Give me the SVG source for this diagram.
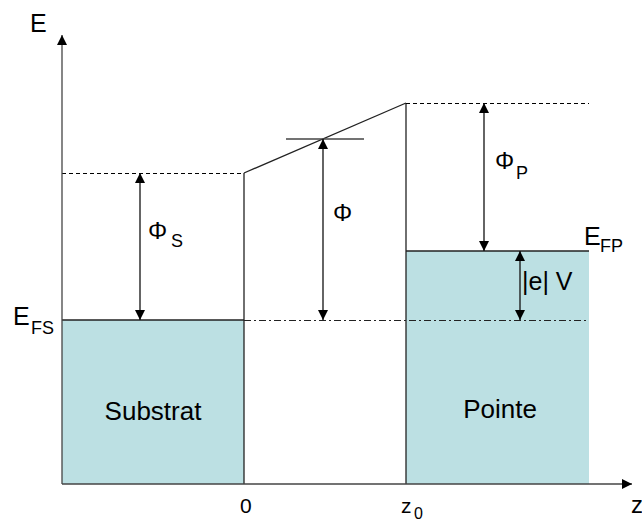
<svg xmlns="http://www.w3.org/2000/svg" width="642" height="523" viewBox="0 0 642 523">
<style>
.t{font-family:"Liberation Sans",Arial,sans-serif;fill:#000;}
.lbl{font-size:25px;}
.phi{font-size:24px;}
.sub{font-size:18px;}
.box{fill:#BCE0E3;stroke:none;}
.ln{stroke:#222;stroke-width:1.3;fill:none;}
.ax{stroke:#444;stroke-width:1.3;fill:none;}
.dash{stroke:#000;stroke-width:1.2;stroke-dasharray:4 3;fill:none;}
.dd{stroke:#222;stroke-width:1.1;stroke-dasharray:7 3 2 3;fill:none;}
.arr{stroke:#111;stroke-width:1.3;fill:none;marker-start:url(#ah);marker-end:url(#ah);}
</style>
<defs>
<marker id="ah" viewBox="0 0 10 10" refX="10" refY="5" markerWidth="10" markerHeight="10" markerUnits="userSpaceOnUse" orient="auto-start-reverse">
<path d="M0,0 L10,5 L0,10 Z" fill="#000"/>
</marker>
<marker id="axh" viewBox="0 0 10 10" refX="10" refY="5" markerWidth="10" markerHeight="10" markerUnits="userSpaceOnUse" orient="auto">
<path d="M0,0 L10,5 L0,10 Z" fill="#000"/>
</marker>
</defs>

<g id="substrat">
<rect class="box" x="62" y="320" width="182" height="164"/>
<line class="ln" x1="62" y1="320" x2="244" y2="320"/>
<text class="t" x="153" y="420" font-size="26" text-anchor="middle">Substrat</text>
</g>

<g id="pointe">
<rect class="box" x="406" y="251" width="183" height="233"/>
<line class="ln" x1="406" y1="251" x2="589" y2="251"/>
<text class="t" x="500" y="418" font-size="26" text-anchor="middle">Pointe</text>
</g>

<g id="barrier">
<line class="ln" x1="244" y1="173" x2="244" y2="484"/>
<line class="ln" x1="406" y1="103" x2="406" y2="484"/>
<line class="ln" x1="244" y1="173" x2="406" y2="103"/>
<line class="dash" x1="62" y1="173.5" x2="244" y2="173.5"/>
<line class="dash" x1="406" y1="103.5" x2="589" y2="103.5"/>
<line class="dd" x1="244" y1="320.5" x2="589" y2="320.5"/>
<line class="ax" x1="286" y1="139" x2="364" y2="139"/>
</g>

<g id="axes">
<line class="ax" x1="62" y1="484" x2="62" y2="35" marker-end="url(#axh)"/>
<line class="ax" x1="62" y1="484" x2="632" y2="484" marker-end="url(#axh)"/>
<text class="t lbl" x="30" y="32">E</text>
<text class="t" x="631" y="513" font-size="24">z</text>
<text class="t" x="240" y="513" font-size="21">0</text>
<text class="t" x="401" y="513" font-size="21">z</text>
<text class="t" x="414" y="519" font-size="16">0</text>
</g>

<g id="labels">
<text class="t lbl" x="13" y="325">E</text><text class="t sub" x="31" y="334">FS</text>
<text class="t lbl" x="584" y="245">E</text><text class="t sub" x="600" y="252">FP</text>
<text class="t phi" x="148" y="239">Φ</text><text class="t sub" x="171" y="247">S</text>
<text class="t phi" x="333" y="221">Φ</text>
<text class="t phi" x="495" y="169">Φ</text><text class="t sub" x="516" y="179">P</text>
<text class="t lbl" x="522" y="290">|e| V</text>
</g>

<g id="connectors">
<line class="arr" x1="140" y1="173" x2="140" y2="320"/>
<line class="arr" x1="323" y1="139" x2="323" y2="320"/>
<line class="arr" x1="484" y1="103" x2="484" y2="251"/>
<line class="arr" x1="520" y1="251" x2="520" y2="320"/>
</g>
</svg>
